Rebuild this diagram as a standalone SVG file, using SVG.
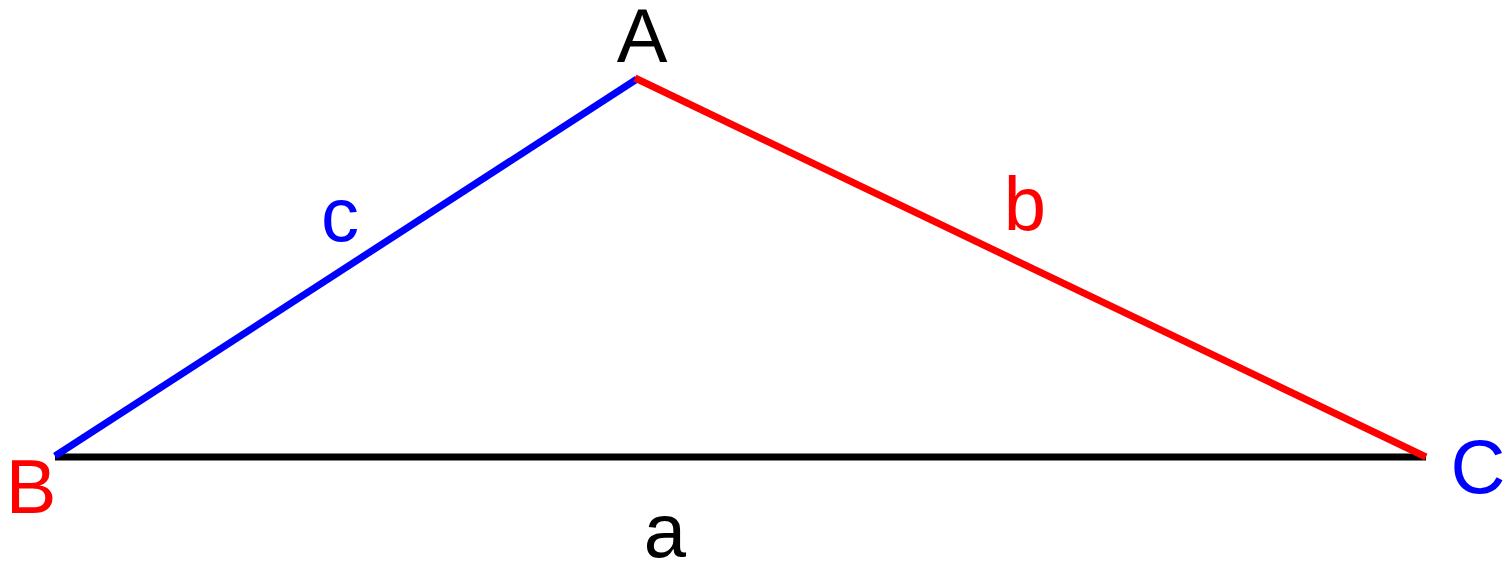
<svg xmlns="http://www.w3.org/2000/svg" width="1512" height="562" viewBox="0 0 1512 562">
<style>
text{font-family:"Liberation Sans",Arial,sans-serif;font-size:76px;text-anchor:middle}
.e{stroke-width:7;fill:none;stroke-linecap:butt}
</style>
<rect width="1512" height="562" fill="#fff"/>
<g id="edges">
<line id="side-a" class="e" x1="55" y1="457" x2="1426" y2="457" stroke="#000"/>
<line id="side-c" class="e" x1="55" y1="456" x2="637" y2="79" stroke="#00f"/>
<line id="side-b" class="e" x1="635" y1="78" x2="1426" y2="457" stroke="#f00"/>
</g>
<g id="A"><text x="642" y="62" fill="#000">A</text></g>
<g id="B"><text x="31" y="513" fill="#f00">B</text></g>
<g id="C"><text x="1478" y="493" fill="#00f">C</text></g>
<g id="label-a"><text x="665" y="557" fill="#000">a</text></g>
<g id="label-b"><text x="1025" y="230" fill="#f00">b</text></g>
<g id="label-c"><text x="340" y="241" fill="#00f">c</text></g>
</svg>
